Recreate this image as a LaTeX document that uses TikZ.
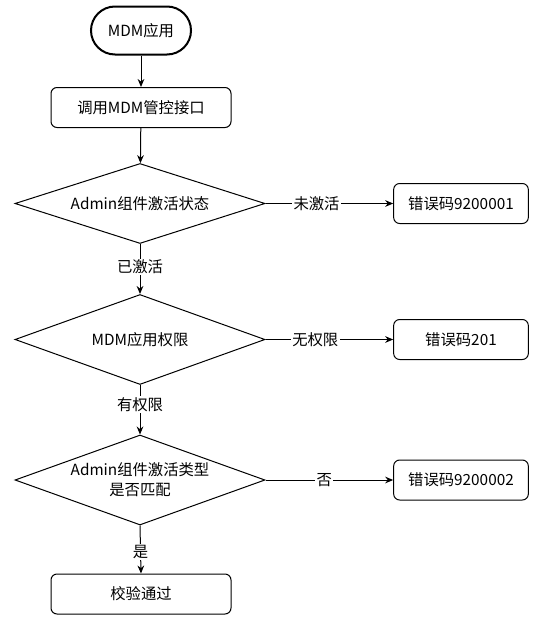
\documentclass[tikz,border=0pt]{standalone}
\usepackage{fontspec}
\setmainfont{Noto Sans CJK SC}
\usetikzlibrary{arrows.meta,shapes.geometric}

\begin{document}
\begin{tikzpicture}[x=0.75pt,y=-0.75pt,
    font=\fontsize{11.5pt}{15pt}\selectfont,
    startbox/.style={draw, line width=1.5pt, rounded corners=18pt, minimum width=75pt, minimum height=36pt, inner sep=0pt},
    procbox/.style={draw, line width=0.75pt, rounded corners=4.5pt, minimum width=135pt, minimum height=30pt, inner sep=0pt},
    errbox/.style={procbox, minimum width=101pt},
    check/.style={draw, diamond, line width=0.75pt, aspect=3, minimum width=187.5pt, minimum height=67.5pt, inner sep=0pt, align=center},
    flow/.style={line width=0.75pt, -{Stealth[length=6pt,width=5pt]}},
    lbl/.style={fill=white, inner sep=1pt}]
  \useasboundingbox (0,0) rectangle (551,621);

  % main column
  \node[startbox] (start) at (141,30.5) {MDM应用};
  \node[procbox] (call) at (141,107.5) {调用MDM管控接口};
  \node[check, minimum height=60pt] (state) at (140,203.5) {Admin组件激活状态};
  \node[check] (perm) at (140,339.5) {MDM应用权限};
  \node[check] (type) at (140,480) {Admin组件激活类型\\是否匹配};
  \node[procbox] (pass) at (141,594) {校验通过};

  % error codes
  \node[errbox] (err1) at (461,203.5) {错误码9200001};
  \node[errbox] (err2) at (461,339.5) {错误码201};
  \node[errbox] (err3) at (461,480) {错误码9200002};

  \draw[flow] (start) -- (call);
  \draw[flow] (call) -- (state);
  \draw[flow] (state.south) -- node[lbl, pos=0.46] {已激活} (perm.north);
  \draw[flow] (perm.south) -- node[lbl, pos=0.39] {有权限} (type.north);
  \draw[flow] (type.south) -- node[lbl, pos=0.55] {是} (pass.north);

  \draw[flow] (state.east) -- node[lbl, pos=0.4] {未激活} (err1.west);
  \draw[flow] (perm.east) -- node[lbl, pos=0.39] {无权限} (err2.west);
  \draw[flow] (type.east) -- node[lbl, pos=0.46] {否} (err3.west);
\end{tikzpicture}
\end{document}
